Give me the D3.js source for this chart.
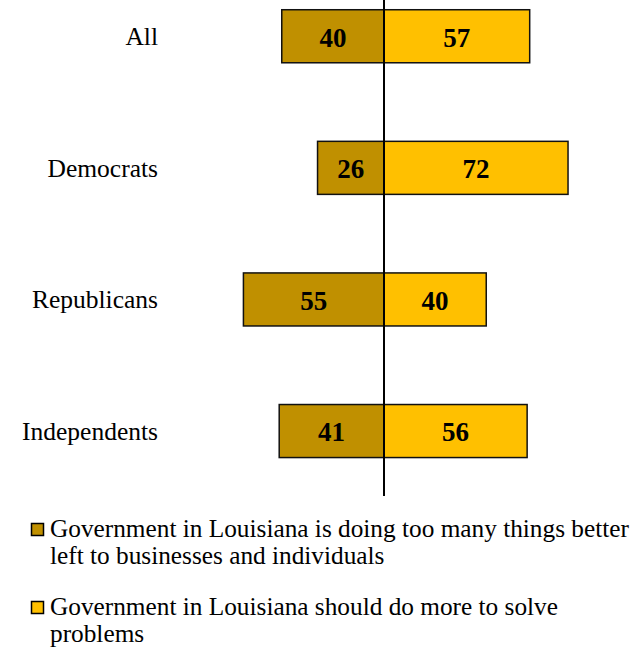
<!DOCTYPE html>
<html>
<head>
<meta charset="utf-8">
<script src="https://cdn.jsdelivr.net/npm/d3@7"></script>
<style>
  html, body { margin: 0; padding: 0; background: #fff; }
  svg { display: block; }
</style>
</head>
<body>
<script>
const categories = ["All", "Democrats", "Republicans", "Independents"];
const tooMany = [40, 26, 55, 41];
const doMore = [57, 72, 40, 56];
const seriesNames = [
  "Government in Louisiana is doing too many things better left to businesses and individuals",
  "Government in Louisiana should do more to solve problems"
];
const legendLines = [
  ["Government in Louisiana is doing too many things better", "left to businesses and individuals"],
  ["Government in Louisiana should do more to solve", "problems"]
];
const colors = ["#C09000", "#FFC000"];

const W = 644, H = 648;
const svg = d3.select("body").append("svg").attr("width", W).attr("height", H);

const x = d3.scaleLinear().domain([-100, 100]).range([128.4, 639.6]);
const y = d3.scaleBand().domain(categories).range([0, 467.3]).paddingInner(0.597).paddingOuter(0.074);

const rows = categories.map((c, i) => ({ c, left: tooMany[i], right: doMore[i] }));

const g = svg.append("g");
const serif = "'Liberation Serif', 'Times New Roman', serif";

// left bars
g.selectAll("rect.left").data(rows).join("rect")
  .attr("class", "left")
  .attr("x", d => x(-d.left))
  .attr("y", d => y(d.c))
  .attr("width", d => x(0) - x(-d.left))
  .attr("height", y.bandwidth())
  .attr("fill", colors[0])
  .attr("stroke", "#111")
  .attr("stroke-width", 1.5);

// right bars
g.selectAll("rect.right").data(rows).join("rect")
  .attr("class", "right")
  .attr("x", x(0))
  .attr("y", d => y(d.c))
  .attr("width", d => x(d.right) - x(0))
  .attr("height", y.bandwidth())
  .attr("fill", colors[1])
  .attr("stroke", "#111")
  .attr("stroke-width", 1.5);

// value labels
g.selectAll("text.lv").data(rows).join("text")
  .attr("class", "lv")
  .attr("x", d => (x(-d.left) + x(0)) / 2)
  .attr("y", d => y(d.c) + y.bandwidth() / 2)
  .attr("dy", "0.38em")
  .attr("text-anchor", "middle")
  .style("font-family", serif).style("font-weight", "bold").style("font-size", "27px")
  .attr("fill", "#000")
  .text(d => d.left);

g.selectAll("text.rv").data(rows).join("text")
  .attr("class", "rv")
  .attr("x", d => (x(d.right) + x(0)) / 2)
  .attr("y", d => y(d.c) + y.bandwidth() / 2)
  .attr("dy", "0.38em")
  .attr("text-anchor", "middle")
  .style("font-family", serif).style("font-weight", "bold").style("font-size", "27px")
  .attr("fill", "#000")
  .text(d => d.right);

// center axis line
g.append("line")
  .attr("x1", x(0)).attr("x2", x(0))
  .attr("y1", 0).attr("y2", 496)
  .attr("stroke", "#000").attr("stroke-width", 2);

// category labels
const yAxis = d3.axisLeft(y).tickSize(0).tickPadding(0);
const ax = svg.append("g").attr("transform", "translate(158,0)").call(yAxis);
ax.select(".domain").remove();
ax.selectAll("text")
  .attr("dy", "0.35em")
  .style("font-family", serif).style("font-size", "25.5px").attr("fill", "#000");

// legend
const leg = svg.append("g");
const legendY = [537, 615];
legendLines.forEach((lines, i) => {
  leg.append("rect")
    .attr("x", 31.5).attr("y", legendY[i] - 13.5)
    .attr("width", 12).attr("height", 12)
    .attr("fill", colors[i]).attr("stroke", "#000").attr("stroke-width", 1.5);
  const t = leg.append("text")
    .style("font-family", serif).style("font-size", "25.3px").attr("fill", "#000");
  lines.forEach((ln, j) => {
    t.append("tspan").attr("x", 50).attr("y", legendY[i] + j * 27).text(ln);
  });
});
</script>
</body>
</html>
